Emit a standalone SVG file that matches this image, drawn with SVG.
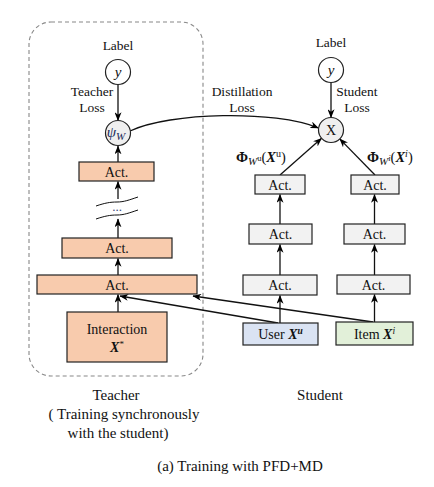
<svg xmlns="http://www.w3.org/2000/svg" width="434" height="487" viewBox="0 0 434 487" font-family="'Liberation Serif', 'Times New Roman', serif">
<defs>
<marker id="arr" viewBox="0 0 10 8" refX="9.5" refY="4" markerWidth="9" markerHeight="7" markerUnits="userSpaceOnUse" orient="auto">
<path d="M0,0 L10,4 L0,8 L3,4 z" fill="#000"/>
</marker>
</defs>
<style>
text, tspan { font-family: 'Liberation Serif', 'Times New Roman', serif; fill: #111; }
.lbl { font-size: 13.5px; text-anchor: middle; }
.big { font-size: 15px; text-anchor: middle; }
.act { font-size: 14px; text-anchor: middle; }
.peach { fill: #f8cbad; stroke: #222; stroke-width: 1.2; }
.gray { fill: #f2f2f2; stroke: #222; stroke-width: 1.2; }
.circ { fill: #fff; stroke: #222; stroke-width: 1.2; }
.circg { fill: #efefef; stroke: #222; stroke-width: 1.2; }
.con { fill: none; stroke: #111; stroke-width: 1.3; marker-end: url(#arr); }
.wave { fill: none; stroke: #111; stroke-width: 1; }
.it { font-style: italic; }
.bi { font-style: italic; font-weight: bold; }
</style>
<rect x="29" y="22" width="174" height="354" rx="22" ry="22" fill="none" stroke="#888" stroke-width="1.1" stroke-dasharray="4,3"/>

<g id="connectors">
<path class="con" d="M118,84.5 L118,120.5"/>
<path class="con" d="M118,162 L118,146"/>
<path class="con" d="M118,199 L118,181.5"/>
<path class="con" d="M118,238 L118,219"/>
<path class="con" d="M118,275 L118,258.5"/>
<path class="con" d="M118,312 L118,294.5"/>
<path class="con" d="M278,323 L120,296"/>
<path class="con" d="M373,322 L193,296"/>
<path class="con" d="M130,131 C170,112 275,110 318.5,128"/>
<path class="con" d="M331,82.5 L331,117.5"/>
<path class="con" d="M280,175 L321.6,138.3"/>
<path class="con" d="M375,175 L339.7,138.9"/>
<path class="con" d="M280,224 L280,194.5"/>
<path class="con" d="M280,275 L280,244.5"/>
<path class="con" d="M280,323 L280,295.5"/>
<path class="con" d="M374.5,224 L374.5,194.5"/>
<path class="con" d="M374.5,275 L374.5,244.5"/>
<path class="con" d="M374.5,322 L374.5,294.5"/>
</g>

<g id="teacher-label">
<text class="lbl" x="118" y="50">Label</text>
</g>
<g id="teacher-y">
<circle class="circ" cx="118" cy="72" r="12.5"/>
<text class="it" x="118" y="77" font-size="15" text-anchor="middle">y</text>
</g>
<g id="teacher-loss">
<text class="lbl" x="92" y="96">Teacher</text>
<text class="lbl" x="92" y="112">Loss</text>
</g>
<g id="teacher-psi">
<circle class="circg" cx="118" cy="133" r="12.5"/>
<text x="116" y="137" font-size="15" text-anchor="middle"><tspan class="it" style="fill:#1a2a5a">ψ</tspan><tspan class="it" font-size="11" dy="3" style="fill:#1a2a5a">W</tspan></text>
</g>
<g id="teacher-act1">
<rect class="peach" x="79" y="162" width="75" height="19"/>
<text class="act" x="116.5" y="176.5">Act.</text>
</g>
<g id="teacher-dots">
<path class="wave" d="M96,206 C105,203 110,202 117,202 C124,202 129,200 138,197"/>
<path class="wave" d="M96,219 C105,216 110,215 117,215 C124,215 129,213 138,210"/>
<text x="117" y="211" font-size="13" text-anchor="middle" style="fill:#3a4a7a">...</text>
</g>
<g id="teacher-act2">
<rect class="peach" x="62" y="238" width="110" height="20"/>
<text class="act" x="117" y="253">Act.</text>
</g>
<g id="teacher-act3">
<rect class="peach" x="37" y="275" width="160" height="19"/>
<text class="act" x="117" y="289.5">Act.</text>
</g>
<g id="teacher-interaction">
<rect class="peach" x="67" y="312" width="100" height="50"/>
<text class="act" x="117" y="334">Interaction</text>
<text x="117" y="352" font-size="14" text-anchor="middle"><tspan class="bi">X</tspan><tspan font-size="9" dy="-5">*</tspan></text>
</g>

<g id="distill-label">
<text class="lbl" x="242" y="96">Distillation</text>
<text class="lbl" x="242" y="112">Loss</text>
</g>
<g id="student-label">
<text class="lbl" x="331" y="47">Label</text>
</g>
<g id="student-y">
<circle class="circ" cx="331" cy="70" r="12.5"/>
<text class="it" x="331" y="75" font-size="15" text-anchor="middle">y</text>
</g>
<g id="student-loss">
<text class="lbl" x="357" y="96">Student</text>
<text class="lbl" x="357" y="112">Loss</text>
</g>
<g id="student-x">
<circle class="circg" cx="331" cy="130" r="12.5"/>
<text x="331" y="135" font-size="14" text-anchor="middle">X</text>
</g>
<g id="phi-u">
<text x="236" y="162" font-size="14.5"><tspan font-weight="bold">Φ</tspan><tspan class="it" font-size="11" dy="3">W</tspan><tspan font-size="8.5" dy="-4">u</tspan><tspan dy="1">(</tspan><tspan class="bi">X</tspan><tspan font-size="10" dy="-5">u</tspan><tspan dy="5">)</tspan></text>
</g>
<g id="phi-i">
<text x="367" y="162" font-size="14.5"><tspan font-weight="bold">Φ</tspan><tspan class="it" font-size="11" dy="3">W</tspan><tspan class="it" font-size="8.5" dy="-4">i</tspan><tspan dy="1">(</tspan><tspan class="bi">X</tspan><tspan class="it" font-size="10" dy="-5">i</tspan><tspan dy="5">)</tspan></text>
</g>
<g id="user-act1">
<rect class="gray" x="255" y="175" width="50" height="19"/>
<text class="act" x="280" y="189.5">Act.</text>
</g>
<g id="user-act2">
<rect class="gray" x="249" y="224" width="63" height="20"/>
<text class="act" x="280.5" y="239">Act.</text>
</g>
<g id="user-act3">
<rect class="gray" x="243" y="275" width="74" height="20"/>
<text class="act" x="280" y="290">Act.</text>
</g>
<g id="user-input">
<rect x="243" y="323" width="75" height="22" fill="#dae3f3" stroke="#222" stroke-width="1.2"/>
<text x="280.5" y="339" font-size="14" text-anchor="middle">User <tspan class="bi">X</tspan><tspan class="bi" font-size="9.5" dy="-5">u</tspan></text>
</g>
<g id="item-act1">
<rect class="gray" x="351" y="175" width="48" height="19"/>
<text class="act" x="375" y="189.5">Act.</text>
</g>
<g id="item-act2">
<rect class="gray" x="344" y="224" width="61" height="20"/>
<text class="act" x="374.5" y="239">Act.</text>
</g>
<g id="item-act3">
<rect class="gray" x="337" y="275" width="73" height="19"/>
<text class="act" x="373.5" y="289.5">Act.</text>
</g>
<g id="item-input">
<rect x="336" y="322" width="77" height="23" fill="#e2f0d9" stroke="#222" stroke-width="1.2"/>
<text x="374.5" y="339" font-size="14" text-anchor="middle">Item <tspan class="bi">X</tspan><tspan class="it" font-size="9.5" dy="-5">i</tspan></text>
</g>

<g id="captions">
<text class="big" x="116" y="400">Teacher</text>
<text class="big" x="124" y="419">( Training synchronously</text>
<text class="big" x="118" y="438">with the student)</text>
<text class="big" x="320" y="400">Student</text>
<text class="big" x="240" y="471">(a) Training with PFD+MD</text>
</g>
</svg>
